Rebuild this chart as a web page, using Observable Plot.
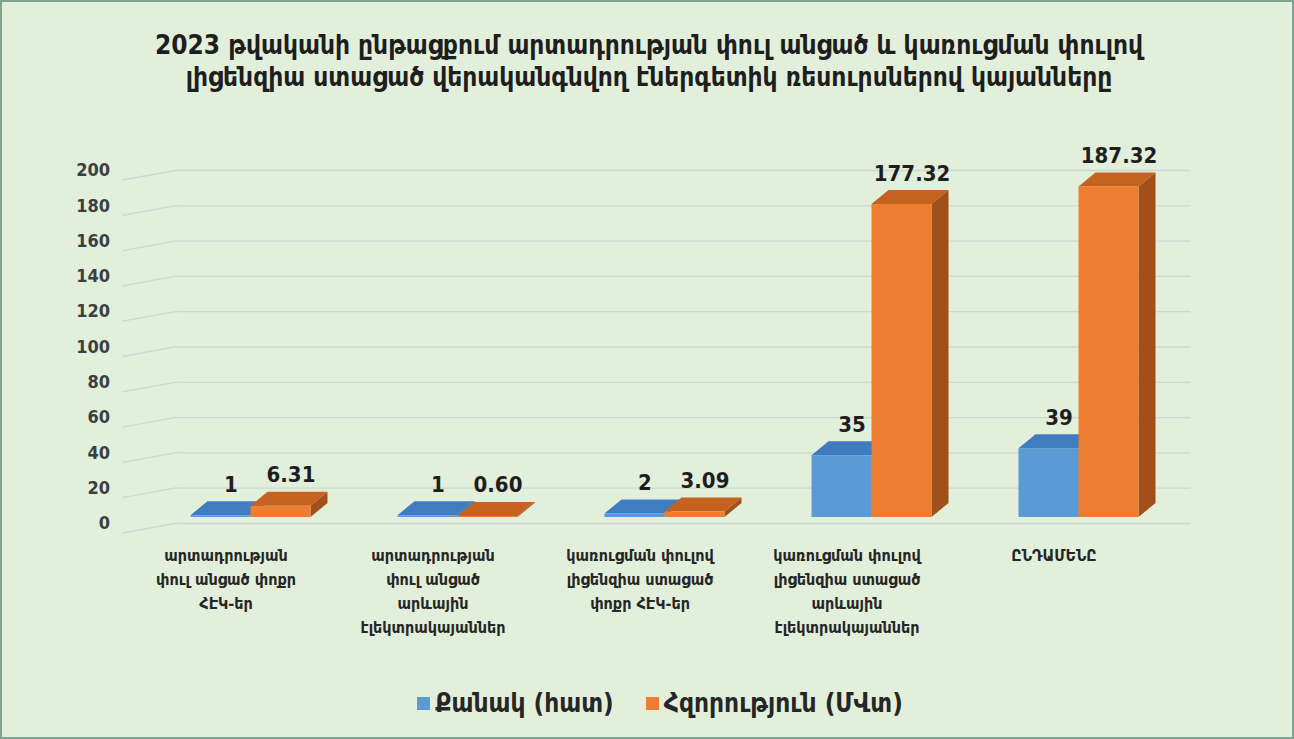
<!DOCTYPE html>
<html>
<head>
<meta charset="utf-8">
<script src="https://cdn.jsdelivr.net/npm/d3@7"></script>
<script src="https://cdn.jsdelivr.net/npm/@observablehq/plot@0.6"></script>
<style>
  html, body { margin: 0; padding: 0; background: #ffffff; }
  #frame {
    position: absolute; left: 0; top: 0; width: 1294px; height: 739px;
    box-sizing: border-box; border: 2px solid #7fa592; background: #e2efda;
    font-family: "DejaVu Sans Condensed", "DejaVu Sans", sans-serif; overflow: hidden;
  }
  #title {
    position: absolute; left: 0; top: 27px; width: 1294px; text-align: center;
    font-size: 26px; font-weight: bold; line-height: 32px; color: #1e1e1e;
  }
  #chart { position: absolute; left: 0; top: 0; }
  #legend {
    position: absolute; top: 686px; left: 0; width: 1294px; display: flex; justify-content: center;
    gap: 32px; font-size: 26px; font-weight: bold; color: #262626; padding-left: 22px; box-sizing: border-box;
  }
  #legend span.item { display: flex; align-items: center; gap: 5px; }
  #legend span.sw { display: inline-block; width: 13px; height: 13px; }
</style>
</head>
<body>
<div id="frame">
  <div id="chart"></div>
  <div id="title"></div>
  <div id="legend"></div>
</div>
<script>
const titleLines = [
  "2023 թվականի ընթացքում արտադրության փուլ անցած և կառուցման փուլով",
  "լիցենզիա ստացած վերականգնվող էներգետիկ ռեսուրսներով կայանները"
];
const categories = [
  "արտադրության\nփուլ անցած փոքր\nՀԷԿ-եր",
  "արտադրության\nփուլ անցած\nարևային\nէլեկտրակայաններ",
  "կառուցման փուլով\nլիցենզիա ստացած\nփոքր ՀԷԿ-եր",
  "կառուցման փուլով\nլիցենզիա ստացած\nարևային\nէլեկտրակայաններ",
  "ԸՆԴԱՄԵՆԸ"
];
const counts = [1, 1, 2, 35, 39];
const capacities = [6.31, 0.60, 3.09, 177.32, 187.32];
const countLabels = ["1", "1", "2", "35", "39"];
const capacityLabels = ["6.31", "0.60", "3.09", "177.32", "187.32"];
const seriesNames = ["Քանակ (հատ)", "Հզորություն (ՄՎտ)"];
const yTicks = [0, 20, 40, 60, 80, 100, 120, 140, 160, 180, 200];

const colors = {
  blue:   {front: "#5b9bd5", top: "#3f7dc0", side: "#2f66a0"},
  orange: {front: "#ed7d31", top: "#c5621f", side: "#a14f1b"}
};

// 3D geometry (pixels)
const BAR = 60, DX = 17, DY = 14, LIFT = 6;

const countData = categories.map((c, i) => ({cat: c, v: counts[i], label: countLabels[i]}));
const capData = categories.map((c, i) => ({cat: c, v: capacities[i], label: capacityLabels[i]}));

document.getElementById("title").innerHTML = titleLines.join("<br>");

const W = 1290, H = 735;
const marginLeft = 144.5, marginRight = 110.5, marginTop = 168, marginBottom = 214;

function faces(index, scales, values, dims) {
  const {x, y} = scales;
  const g = d3.create("svg:g");
  const bw = x.bandwidth();
  // slanted part of the back-wall gridlines
  for (const t of yTicks) {
    g.append("line")
      .attr("x1", dims.marginLeft - 24).attr("y1", y(t) + 10)
      .attr("x2", dims.marginLeft + 31).attr("y2", y(t))
      .attr("stroke", "#ccd8d2").attr("stroke-width", 1.3);
  }
  const series = [[counts, colors.blue, 0], [capacities, colors.orange, 1]];
  categories.forEach((c, i) => {
    for (const [vals, col, s] of series) {
      const x0 = x(c) + bw / 2 - BAR + BAR * s, x1 = x0 + BAR;
      const yt = y(vals[i]) - LIFT, yb = y(0) - LIFT;
      g.append("polygon")
        .attr("points", [[x1, yt], [x1 + DX, yt - DY], [x1 + DX, yb - DY], [x1, yb]].map(p => p.join(",")).join(" "))
        .attr("fill", col.side);
      g.append("polygon")
        .attr("points", [[x0, yt], [x1, yt], [x1 + DX, yt - DY], [x0 + DX, yt - DY]].map(p => p.join(",")).join(" "))
        .attr("fill", col.top);
    }
  });
  return g.node();
}

const half = 207 / 2;
const plot = Plot.plot({
  width: W, height: H,
  marginLeft, marginRight, marginTop, marginBottom,
  style: {background: "transparent", fontFamily: "'DejaVu Sans Condensed', 'DejaVu Sans', sans-serif"},
  x: {domain: categories, padding: 0, label: null},
  y: {domain: [0, 200], label: null},
  marks: [
    Plot.ruleY(yTicks, {stroke: "#ccd8d2", strokeWidth: 1.3, insetLeft: 31, insetRight: -9}),
    faces,
    Plot.barY(countData, {x: "cat", y: "v", fill: colors.blue.front, dy: -LIFT,
      insetLeft: half - BAR, insetRight: half}),
    Plot.barY(capData, {x: "cat", y: "v", fill: colors.orange.front, dy: -LIFT,
      insetLeft: half, insetRight: half - BAR}),
    Plot.text(countData, {x: "cat", y: "v", text: "label", dx: -BAR / 2 + 10, dy: -LIFT - DY - 17,
      fontSize: 22, fontWeight: "bold", fill: "#1e1e1e"}),
    Plot.text(capData, {x: "cat", y: "v", text: "label", dx: BAR / 2 + 10, dy: -LIFT - DY - 17,
      fontSize: 22, fontWeight: "bold", fill: "#1e1e1e"}),
    Plot.axisY({ticks: yTicks, tickSize: 0, tickPadding: 37, fontSize: 18, fontWeight: "bold",
      fill: "#3a4040", label: null}),
    Plot.axisX({tickSize: 0, tickPadding: 20, fontSize: 16, fontWeight: "bold", lineHeight: 1.5, dx: -25,
      fill: "#262626", label: null, tickFormat: d => d})
  ]
});
document.getElementById("chart").appendChild(plot);

const legend = document.getElementById("legend");
[[seriesNames[0], colors.blue.front], [seriesNames[1], colors.orange.front]].forEach(([name, col]) => {
  const item = document.createElement("span");
  item.className = "item";
  item.innerHTML = `<span class="sw" style="background:${col}"></span><span>${name}</span>`;
  legend.appendChild(item);
});
</script>
</body>
</html>
